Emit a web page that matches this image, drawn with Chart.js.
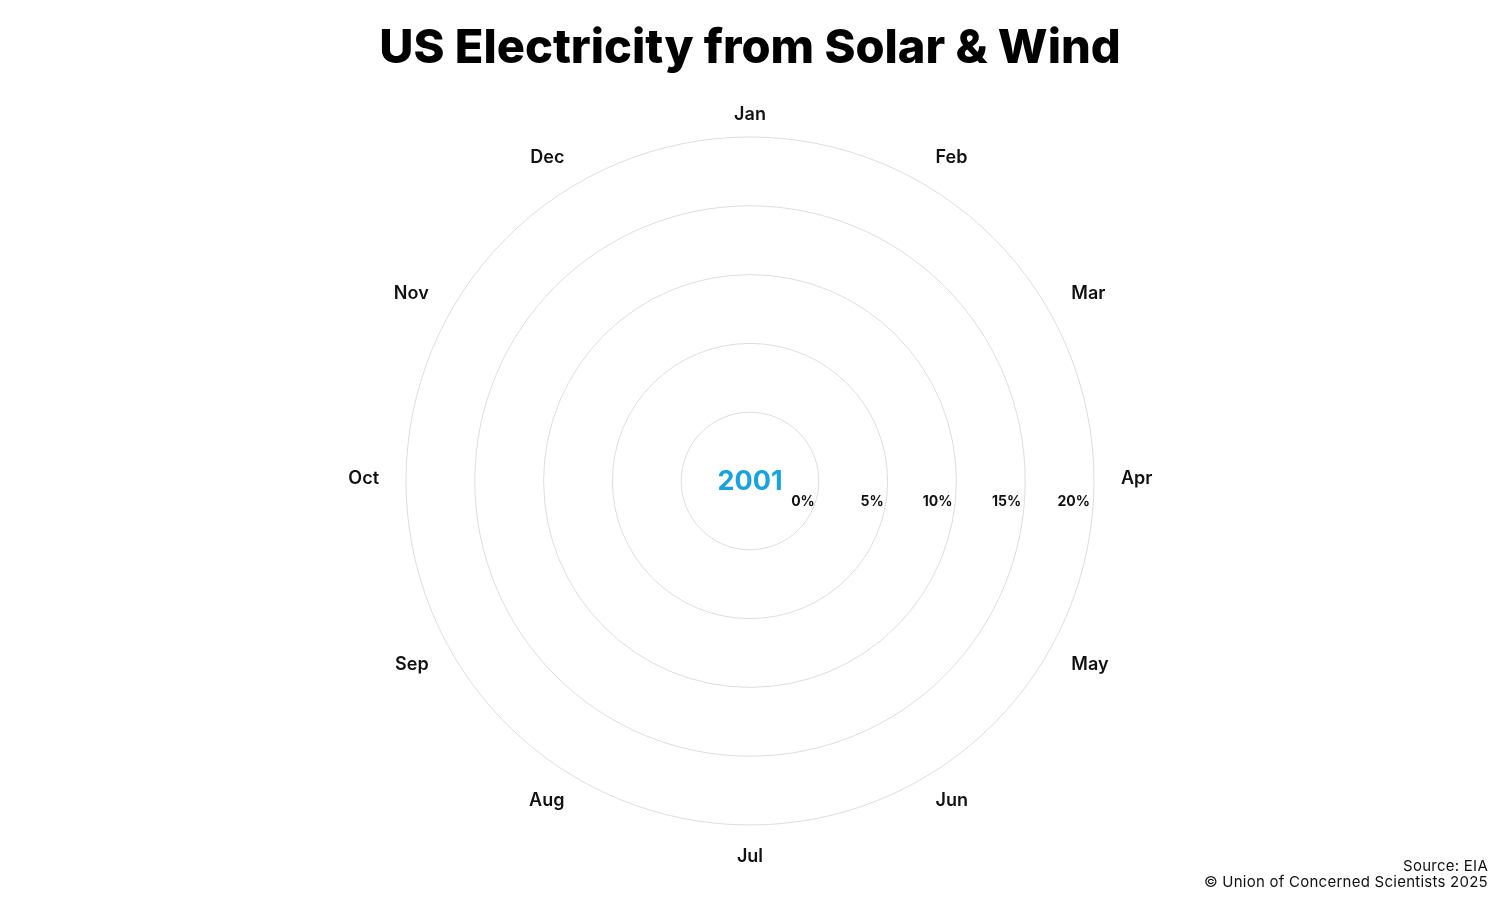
<!DOCTYPE html>
<html>
<head>
<meta charset="utf-8">
<title>US Electricity from Solar & Wind</title>
<script src="https://cdn.jsdelivr.net/npm/chart.js@4.4.1/dist/chart.umd.min.js"></script>
<style>
    html, body {
        margin: 0;
        padding: 0;
        background: #fff;
    }
    #wrap {
        position: relative;
        width: 1500px;
        height: 900px;
    }
    #source {
        position: absolute;
        right: 12px;
        top: 858px;
        font-family: Inter, "Noto Sans", sans-serif;
        font-size: 15px;
        letter-spacing: 0.25px;
        line-height: 16px;
        color: #111;
        text-align: right;
    }
</style>
</head>
<body>
<div id="wrap">
    <canvas id="radarChart" width="1500" height="900"></canvas>
    <div id="source">Source: EIA<br>© Union of Concerned Scientists 2025</div>
</div>
<script>
"use strict";

// months round the circle, Jan at the top
const months = ["Jan", "Feb", "Mar", "Apr", "May", "Jun", "Jul", "Aug", "Sep", "Oct", "Nov", "Dec"];

// percent ticks shown on the right side
const tickValues = [0, 5, 10, 15, 20];

// year shown in the middle
const yearLabel = "2001";

// share of solar+wind for that year - no line is drawn in this frame
const yearShare = [];

const fontFamily = "Inter, 'Noto Sans', sans-serif";

// month names, % ticks and the year - placed from the radial scale
const labelPlugin = {
    id: "radarText",
    afterDraw(chart) {
        const scale = chart.scales.r;
        const ctx = chart.ctx;
        ctx.save();

        // month names, vertically centred on their spoke
        ctx.font = "600 18px " + fontFamily;
        ctx.fillStyle = "#111";
        ctx.textBaseline = "middle";
        months.forEach((m, i) => {
            const pos = scale.getPointPosition(i, scale.drawingArea + 27);
            const dx = pos.x - scale.xCenter;
            const onAxis = Math.abs(dx) < 1;
            ctx.textAlign = onAxis ? "center" : (dx > 0 ? "left" : "right");
            // Jan / Jul sit a little lower than the rest
            ctx.fillText(m, pos.x, pos.y + (onAxis ? 5 : -2));
        });

        // % ticks just inside each ring, under the horizontal axis
        ctx.font = "700 14px " + fontFamily;
        ctx.textAlign = "right";
        tickValues.forEach(v => {
            const d = scale.getDistanceFromCenterForValue(v);
            ctx.fillText(v + "%", scale.xCenter + d - 4, scale.yCenter + 21);
        });

        ctx.font = "700 27px " + fontFamily;
        ctx.fillStyle = "#16a3e0";
        ctx.textAlign = "center";
        ctx.fillText(yearLabel, scale.xCenter, scale.yCenter + 1);
        ctx.restore();
    }
};

window.onload = init;

function init() {
    const radarEl = document.getElementById("radarChart");

    new Chart(radarEl, {
        type: "radar",
        data: {
            labels: months,
            datasets: [{
                label: yearLabel,
                data: yearShare,
                borderColor: "#16a3e0",
                borderWidth: 2,
                pointRadius: 0,
                fill: false
            }]
        },
        options: {
            responsive: false,
            animation: false,
            layout: {
                padding: { top: 0, bottom: 75, left: 0, right: 0 }
            },
            plugins: {
                legend: { display: false },
                tooltip: { enabled: false },
                title: {
                    display: true,
                    text: "US Electricity from Solar & Wind",
                    color: "#000",
                    font: { family: fontFamily, size: 47, weight: "800" },
                    padding: { top: 21, bottom: 59.6 }
                }
            },
            scales: {
                r: {
                    min: -5,
                    max: 20,
                    ticks: {
                        stepSize: 5,
                        display: false
                    },
                    grid: {
                        circular: true,
                        color: "#dddddd",
                        lineWidth: 1
                    },
                    angleLines: { display: false },
                    pointLabels: { display: false }
                }
            }
        },
        plugins: [labelPlugin]
    });
}
</script>
</body>
</html>
